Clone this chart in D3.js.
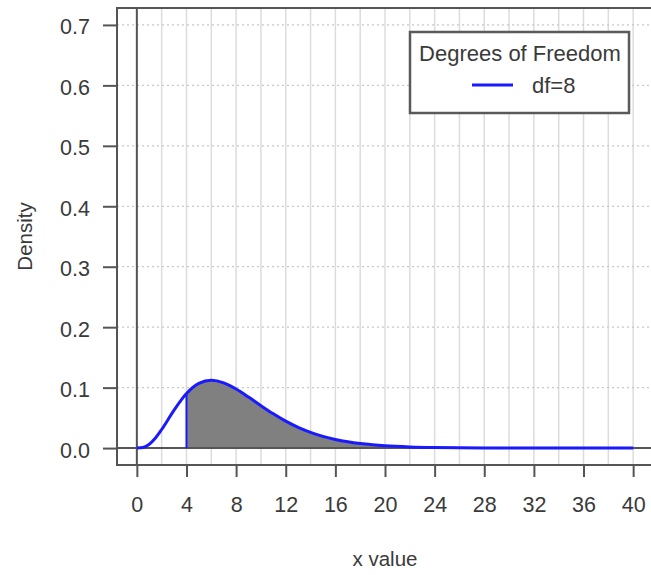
<!DOCTYPE html>
<html>
<head>
<meta charset="utf-8">
<script src="https://cdn.jsdelivr.net/npm/d3@7.9.0/dist/d3.min.js"></script>
<style>
  body { margin: 0; background: #fff; }
  svg { display: block; font-family: "Liberation Sans", Arial, sans-serif; }
</style>
</head>
<body>
<svg id="chart" width="651" height="575"></svg>
<script>
// x positions and density values
const xValues = [0, 0.5, 1, 1.5, 2, 3, 4, 5, 6, 7, 8, 9, 10, 11, 12, 13, 14, 15, 16, 17, 18, 19, 20, 22, 24, 26, 28, 30, 32, 34, 36, 38, 40];
const density = [0, 0.001, 0.0063, 0.0166, 0.0307, 0.0628, 0.0902, 0.1069, 0.112, 0.1079, 0.0977, 0.0844, 0.0702, 0.0567, 0.0446, 0.0344, 0.0261, 0.0194, 0.0143, 0.0104, 0.0075, 0.0054, 0.0038, 0.0019, 0.0009, 0.0004, 0.0002, 0.0001, 0, 0, 0, 0, 0];
const shadeFrom = 4;
const shadeTo = 28;
const xTicks = [0, 4, 8, 12, 16, 20, 24, 28, 32, 36, 40];
const yTicks = [0, 0.1, 0.2, 0.3, 0.4, 0.5, 0.6, 0.7];
const xGrid = d3.range(0, 41, 2);
const legendTitle = "Degrees of Freedom";
const legendLabel = "df=8";

const svg = d3.select("#chart");
const box = { left: 117, top: 8, right: 653, bottom: 465 };
const textColor = "#3a3a3a";

// Scales (R style 4% padding around the data range)
const x = d3.scaleLinear().domain([-1.6, 41.6]).range([box.left, box.right]);
const y = d3.scaleLinear().domain([-0.028, 0.728]).range([box.bottom, box.top]);

const points = xValues.map((d, i) => ({ x: d, y: density[i] }));

// Vertical grid lines
svg.append("g")
    .selectAll("line")
    .data(xGrid)
    .enter()
    .append("line")
    .attr("x1", d => x(d))
    .attr("x2", d => x(d))
    .attr("y1", box.top)
    .attr("y2", box.bottom)
    .attr("stroke", "#dcdcdc")
    .attr("stroke-width", 1.5);

// Horizontal dotted grid
svg.append("g")
    .selectAll("line")
    .data(yTicks.filter(d => d > 0))
    .enter()
    .append("line")
    .attr("x1", box.left)
    .attr("x2", box.right)
    .attr("y1", d => y(d))
    .attr("y2", d => y(d))
    .attr("stroke", "#c8c8c8")
    .attr("stroke-width", 1.2)
    .attr("stroke-dasharray", "2,3");

// Shaded area under the curve
const shaded = points.filter(d => d.x >= shadeFrom && d.x <= shadeTo);
svg.append("path")
    .datum(shaded)
    .attr("d", d3.area()
        .x(d => x(d.x))
        .y0(y(0))
        .y1(d => y(d.y))
        .curve(d3.curveMonotoneX))
    .attr("fill", "#808080");

// Reference lines at x = 0 and y = 0
svg.append("line")
    .attr("x1", x(0)).attr("x2", x(0))
    .attr("y1", box.top).attr("y2", box.bottom)
    .attr("stroke", "#555").attr("stroke-width", 2);
svg.append("line")
    .attr("x1", box.left).attr("x2", box.right)
    .attr("y1", y(0)).attr("y2", y(0))
    .attr("stroke", "#555").attr("stroke-width", 2);

// Left edge of the shaded region
svg.append("line")
    .attr("x1", x(shadeFrom)).attr("x2", x(shadeFrom))
    .attr("y1", y(0)).attr("y2", y(density[xValues.indexOf(shadeFrom)]))
    .attr("stroke", "#1a1aff").attr("stroke-width", 2);

// Density curve
svg.append("path")
    .datum(points)
    .attr("d", d3.line()
        .x(d => x(d.x))
        .y(d => y(d.y))
        .curve(d3.curveMonotoneX))
    .attr("fill", "none")
    .attr("stroke", "#1a1aff")
    .attr("stroke-width", 3);

// Plot box
svg.append("rect")
    .attr("x", box.left)
    .attr("y", box.top)
    .attr("width", box.right - box.left)
    .attr("height", box.bottom - box.top)
    .attr("fill", "none")
    .attr("stroke", "#555")
    .attr("stroke-width", 2);

// X axis
const xAxis = svg.append("g")
    .attr("transform", `translate(0,${box.bottom})`)
    .call(d3.axisBottom(x).tickValues(xTicks).tickSize(12).tickPadding(20).tickFormat(d3.format("d")));
xAxis.select(".domain").remove();

// Y axis
const yAxis = svg.append("g")
    .attr("transform", `translate(${box.left},0)`)
    .call(d3.axisLeft(y).tickValues(yTicks).tickSize(14).tickPadding(13).tickFormat(d3.format(".1f")));
yAxis.select(".domain").remove();

svg.selectAll(".tick line").attr("stroke", "#555").attr("stroke-width", 2);
svg.selectAll(".tick text")
    .attr("fill", textColor)
    .style("font-size", "21.5px")
    .style("font-family", "'Liberation Sans', Arial, sans-serif");
yAxis.selectAll(".tick text").attr("dy", "0.42em");

// Axis labels
svg.append("text")
    .attr("x", (box.left + box.right) / 2)
    .attr("y", 566)
    .attr("text-anchor", "middle")
    .attr("fill", textColor)
    .style("font-size", "20.5px")
    .text("x value");

svg.append("text")
    .attr("transform", "rotate(-90)")
    .attr("x", -(box.top + box.bottom) / 2)
    .attr("y", 32)
    .attr("text-anchor", "middle")
    .attr("fill", textColor)
    .style("font-size", "20.5px")
    .text("Density");

// Legend
const legend = svg.append("g");
legend.append("rect")
    .attr("x", 410)
    .attr("y", 32)
    .attr("width", 219)
    .attr("height", 81)
    .attr("fill", "#fff")
    .attr("stroke", "#5a5a5a")
    .attr("stroke-width", 2.5);
legend.append("text")
    .attr("x", 520)
    .attr("y", 61)
    .attr("text-anchor", "middle")
    .attr("fill", textColor)
    .style("font-size", "22px")
    .text(legendTitle);
legend.append("line")
    .attr("x1", 472).attr("x2", 513)
    .attr("y1", 85).attr("y2", 85)
    .attr("stroke", "#1a1aff")
    .attr("stroke-width", 3);
legend.append("text")
    .attr("x", 532)
    .attr("y", 93)
    .attr("fill", textColor)
    .style("font-size", "22px")
    .text(legendLabel);
</script>
</body>
</html>
